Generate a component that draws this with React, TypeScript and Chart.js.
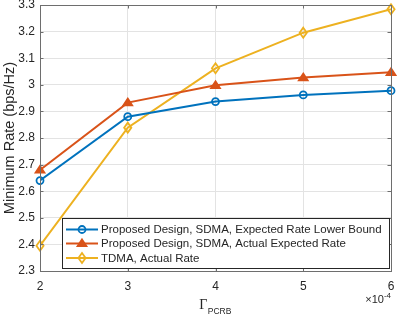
import React, { useEffect, useRef } from "react";
import { Chart, registerables } from "chart.js";

Chart.register(...registerables);

const xValues = [2, 3, 4, 5, 6];
const lowerBound = [2.64, 2.88, 2.937, 2.962, 2.978];
const actualExpected = [2.68, 2.933, 2.998, 3.027, 3.047];
const tdmaRate = [2.395, 2.839, 3.062, 3.196, 3.284];
const seriesLabels = [
  "Proposed Design, SDMA, Expected Rate Lower Bound",
  "Proposed Design, SDMA, Actual Expected Rate",
  "TDMA, Actual Rate",
];
const yLabel = "Minimum Rate (bps/Hz)";
const xLabelMain = "Γ";
const xLabelSub = "PCRB";
const xExponent = "-4";

const FONT = "'Liberation Sans', Arial, sans-serif";
const AXIS_COLOR = "#262626";

const pts = (ys: number[]) => ys.map((y, i) => ({ x: xValues[i], y }));

function drawMarker(ctx: CanvasRenderingContext2D, style: string, x: number, y: number, r: number, color: string, fill: string) {
  ctx.save();
  ctx.lineWidth = 1.8;
  ctx.strokeStyle = color;
  ctx.fillStyle = fill;
  ctx.beginPath();
  if (style === "circle") {
    ctx.arc(x, y, r, 0, Math.PI * 2);
  } else if (style === "triangle") {
    const h = r * 1.5;
    ctx.moveTo(x, y - h * 0.67);
    ctx.lineTo(x + r * 1.1, y + h * 0.45);
    ctx.lineTo(x - r * 1.1, y + h * 0.45);
    ctx.closePath();
  } else {
    ctx.moveTo(x, y - r * 1.25);
    ctx.lineTo(x + r * 0.9, y);
    ctx.lineTo(x, y + r * 1.25);
    ctx.lineTo(x - r * 0.9, y);
    ctx.closePath();
  }
  if (fill && fill !== "transparent") ctx.fill();
  ctx.stroke();
  ctx.restore();
}

const markerPlugin = {
  id: "markers",
  afterDatasetsDraw(chart: any) {
    const ctx = chart.ctx;
    chart.data.datasets.forEach((ds: any, i: number) => {
      const meta = chart.getDatasetMeta(i);
      meta.data.forEach((p: any) => {
        drawMarker(ctx, ds.markerStyle, p.x, p.y, ds.markerRadius, ds.borderColor, ds.markerFill);
      });
    });
  },
};

const decorPlugin = {
  id: "decor",
  afterDraw(chart: any) {
    const ctx = chart.ctx as CanvasRenderingContext2D;
    const { left, right, top, bottom } = chart.chartArea;
    const xs = chart.scales.x;
    const ys = chart.scales.y;
    ctx.save();
    ctx.strokeStyle = "#6e6e6e";
    ctx.lineWidth = 1;
    ctx.strokeRect(Math.round(left) + 0.5, Math.round(top) + 0.5, Math.round(right - left), Math.round(bottom - top));
    const tl = 3.5;
    ctx.beginPath();
    xs.ticks.forEach((t: any) => {
      const px = Math.round(xs.getPixelForValue(t.value)) + 0.5;
      ctx.moveTo(px, bottom);
      ctx.lineTo(px, bottom - tl);
      ctx.moveTo(px, top);
      ctx.lineTo(px, top + tl);
    });
    ys.ticks.forEach((t: any) => {
      const py = Math.round(ys.getPixelForValue(t.value)) + 0.5;
      ctx.moveTo(left, py);
      ctx.lineTo(left + tl, py);
      ctx.moveTo(right, py);
      ctx.lineTo(right - tl, py);
    });
    ctx.stroke();

    // x axis title with subscript
    ctx.fillStyle = AXIS_COLOR;
    ctx.textBaseline = "alphabetic";
    const serif = `14px 'Liberation Serif', 'Times New Roman', serif`;
    ctx.font = serif;
    const gW = ctx.measureText(xLabelMain).width;
    ctx.font = `8.5px ${FONT}`;
    const sW = ctx.measureText(xLabelSub).width;
    const cx = (left + right) / 2;
    const x0 = cx - (gW + sW) / 2 - 0.5;
    ctx.font = serif;
    ctx.textAlign = "left";
    ctx.fillText(xLabelMain, x0, 309);
    ctx.font = `8.5px ${FONT}`;
    ctx.fillText(xLabelSub, x0 + gW + 0.5, 314);

    // exponent
    ctx.textAlign = "right";
    ctx.font = `8px ${FONT}`;
    const eW = ctx.measureText(xExponent).width;
    ctx.fillText(xExponent, right, 297.5);
    ctx.font = `11px ${FONT}`;
    ctx.fillText("×10", right - eW, 302.5);

    // y axis title
    ctx.save();
    ctx.translate(9.5, (top + bottom) / 2);
    ctx.rotate(-Math.PI / 2);
    ctx.textAlign = "center";
    ctx.textBaseline = "middle";
    ctx.font = `14.5px ${FONT}`;
    ctx.fillText(yLabel, 0, 0);
    ctx.restore();

    // legend
    const lx = 62.5, ly = 218.5, lw = 389.5 - 62.5, lh = 50;
    ctx.fillStyle = "#ffffff";
    ctx.fillRect(lx, ly, lw, lh);
    ctx.strokeStyle = "#262626";
    ctx.lineWidth = 1;
    ctx.strokeRect(lx, ly, lw, lh);
    const rows = [229.5, 243.5, 258];
    chart.data.datasets.forEach((ds: any, i: number) => {
      const y = rows[i];
      ctx.strokeStyle = ds.borderColor;
      ctx.lineWidth = 2;
      ctx.beginPath();
      ctx.moveTo(66, y);
      ctx.lineTo(98, y);
      ctx.stroke();
      drawMarker(ctx, ds.markerStyle, 82, y, ds.markerRadius, ds.borderColor, ds.markerFill);
      ctx.fillStyle = AXIS_COLOR;
      ctx.font = `11.5px ${FONT}`;
      ctx.textAlign = "left";
      ctx.textBaseline = "middle";
      ctx.fillText(ds.label, 101, y + 0.5);
    });
    ctx.restore();
  },
};

export default function App() {
  const ref = useRef<HTMLCanvasElement>(null);
  useEffect(() => {
    document.body.style.margin = "0";
    const chart = new Chart(ref.current!, {
      type: "line",
      data: {
        datasets: [
          { label: seriesLabels[0], data: pts(lowerBound), borderColor: "#0072BD", markerFill: "transparent", markerStyle: "circle", markerRadius: 3.5 },
          { label: seriesLabels[1], data: pts(actualExpected), borderColor: "#D95319", markerFill: "#D95319", markerStyle: "triangle", markerRadius: 4 },
          { label: seriesLabels[2], data: pts(tdmaRate), borderColor: "#EDB120", markerFill: "transparent", markerStyle: "diamond", markerRadius: 4 },
        ].map((d: any) => ({ ...d, borderWidth: 2, tension: 0, fill: false, pointRadius: 0, pointHoverRadius: 0 })) as any,
      },
      options: {
        animation: false,
        responsive: false,
        devicePixelRatio: 1,
        events: [],
        layout: { padding: { left: 0, right: 6, top: 5, bottom: 0 } },
        plugins: { legend: { display: false }, tooltip: { enabled: false } },
        scales: {
          x: {
            type: "linear",
            min: 2,
            max: 6,
            border: { display: false },
            grid: { color: "#e3e3e3", drawTicks: false },
            ticks: { stepSize: 1, color: AXIS_COLOR, font: { family: FONT, size: 12 }, padding: 8, maxRotation: 0 },
            afterFit: (s: any) => { s.height = 45; s.paddingLeft = 0; s.paddingRight = 0; },
          },
          y: {
            min: 2.3,
            max: 3.3,
            border: { display: false },
            grid: { color: "#e3e3e3", drawTicks: false },
            ticks: {
              stepSize: 0.1,
              color: AXIS_COLOR,
              font: { family: FONT, size: 12 },
              padding: 5,
              callback: (v: any) => String(Number(Number(v).toFixed(1))),
            },
            afterFit: (s: any) => { s.width = 40; s.paddingTop = 0; s.paddingBottom = 0; },
          },
        },
      },
      plugins: [markerPlugin, decorPlugin],
    });
    return () => chart.destroy();
  }, []);
  return <canvas ref={ref} width={397} height={316} style={{ display: "block", width: 397, height: 316 }} />;
}
